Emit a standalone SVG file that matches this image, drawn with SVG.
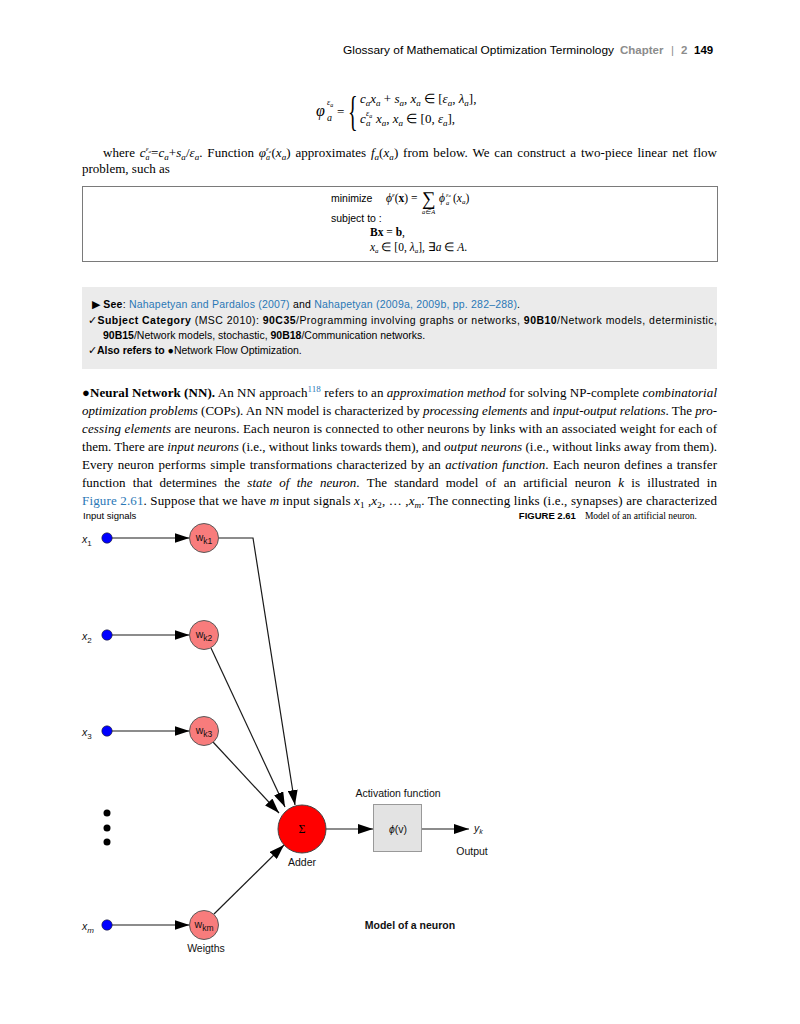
<svg xmlns="http://www.w3.org/2000/svg" width="800" height="1024" viewBox="0 0 800 1024">
<style>
.serif{font-family:"Liberation Serif","Times New Roman",serif}
.sans{font-family:"Liberation Sans",Arial,sans-serif}
.i{font-style:italic}
.b{font-weight:bold}
.link{fill:#2a78b6}
.gray{fill:#8c8c8c}
.conn{stroke:#1a1a1a;stroke-width:1.2;fill:none}
.wnode{fill:#f87c7c;stroke:#5a5a5a;stroke-width:1}
.dot{fill:#0000ff;stroke:#222;stroke-width:0.6}
.lbl{font-family:"Liberation Sans",Arial,sans-serif;font-size:10.5px;fill:#111}
</style>
<defs>
<marker id="ah" markerWidth="15" markerHeight="10" refX="15" refY="5" orient="auto" markerUnits="userSpaceOnUse">
<path d="M0,0 L15,5 L0,10 z" fill="#000"/>
</marker>
</defs>
<rect width="800" height="1024" fill="#fff"/>

<!-- header -->
<g id="header">
<text class="sans" x="343" y="54" font-size="11.5" textLength="271" lengthAdjust="spacingAndGlyphs">Glossary of Mathematical Optimization Terminology</text>
<text class="sans b gray" x="620" y="54" font-size="11.5">Chapter</text>
<text class="sans gray" x="671" y="54" font-size="11.5">|</text>
<text class="sans b gray" x="681" y="54" font-size="11.5">2</text>
<text class="sans b" x="694" y="54" font-size="11.5">149</text>
</g>

<!-- top formula -->
<g id="formula1" class="serif" font-size="13">
<text class="i" x="316" y="116" font-size="16">φ</text>
<text class="i" x="327" y="105" font-size="8">ε<tspan font-size="6" dy="1.5">a</tspan></text>
<text class="i" x="327" y="121" font-size="10">a</text>
<text x="337" y="116">=</text>
<text transform="translate(348,125) scale(1,2.1)" font-size="20">{</text>
<text x="360" y="103"><tspan class="i">c</tspan><tspan class="i" font-size="9" dy="3">a</tspan><tspan class="i" dy="-3">x</tspan><tspan class="i" font-size="9" dy="3">a</tspan><tspan dy="-3"> + </tspan><tspan class="i">s</tspan><tspan class="i" font-size="9" dy="3">a</tspan><tspan dy="-3">,  </tspan><tspan class="i">x</tspan><tspan class="i" font-size="9" dy="3">a</tspan><tspan dy="-3"> ∈ [</tspan><tspan class="i">ε</tspan><tspan class="i" font-size="9" dy="3">a</tspan><tspan dy="-3">, </tspan><tspan class="i">λ</tspan><tspan class="i" font-size="9" dy="3">a</tspan><tspan dy="-3">],</tspan></text>
<text class="i" x="360" y="123">c</text>
<text class="i" x="366" y="116" font-size="8">ε<tspan font-size="6" dy="1.5">a</tspan></text>
<text class="i" x="366" y="126" font-size="9">a</text>
<text x="376" y="123"><tspan class="i">x</tspan><tspan class="i" font-size="9" dy="3">a</tspan><tspan dy="-3">,  </tspan><tspan class="i">x</tspan><tspan class="i" font-size="9" dy="3">a</tspan><tspan dy="-3"> ∈ [0, </tspan><tspan class="i">ε</tspan><tspan class="i" font-size="9" dy="3">a</tspan><tspan dy="-3">],</tspan></text>
</g>

<!-- where line -->
<g id="where" class="serif" font-size="13">
<text x="103" y="157" textLength="614" lengthAdjust="spacing" word-spacing="1.5">where <tspan class="i">c</tspan><tspan class="i" font-size="7" dy="-6">ε</tspan><tspan class="i" font-size="5" dy="1.5">a</tspan><tspan class="i" font-size="8" dx="-5.5" dy="7.5">a</tspan><tspan dx="1.5" dy="-3">=</tspan><tspan class="i">c</tspan><tspan class="i" font-size="9" dy="3">a</tspan><tspan dy="-3">+</tspan><tspan class="i">s</tspan><tspan class="i" font-size="9" dy="3">a</tspan><tspan dy="-3">/</tspan><tspan class="i">ε</tspan><tspan class="i" font-size="9" dy="3">a</tspan><tspan dy="-3">. Function </tspan><tspan class="i">φ</tspan><tspan class="i" font-size="7" dy="-6">ε</tspan><tspan class="i" font-size="5" dy="1.5">a</tspan><tspan class="i" font-size="8" dx="-5.5" dy="7.5">a</tspan><tspan dx="1.5" dy="-3">(</tspan><tspan class="i">x</tspan><tspan class="i" font-size="9" dy="3">a</tspan><tspan dy="-3">) approximates </tspan><tspan class="i">f</tspan><tspan class="i" font-size="9" dy="3">a</tspan><tspan dy="-3">(</tspan><tspan class="i">x</tspan><tspan class="i" font-size="9" dy="3">a</tspan><tspan dy="-3">) from below. We can construct a two-piece linear net flow</tspan></text>
<text x="82" y="173">problem, such as</text>
</g>

<!-- optimization box -->
<g id="problem-box">
<rect x="82.5" y="186.5" width="635" height="75" fill="#fff" stroke="#7a7a7a" stroke-width="1"/>
<text class="sans" x="331" y="202" font-size="10.5">minimize</text>
<text class="serif" x="386" y="202" font-size="11.5"><tspan class="i">ϕ</tspan><tspan class="i" font-size="7" dy="-5">ε</tspan><tspan dy="5">(</tspan><tspan class="b">x</tspan>) = </text>
<text class="serif" x="422" y="205" font-size="19">∑</text>
<text class="serif i" x="422" y="214" font-size="6.5">a∈A</text>
<text class="serif i" x="439" y="202" font-size="11.5">ϕ</text>
<text class="serif i" x="446" y="197" font-size="6">ε<tspan font-size="4.5">a</tspan></text>
<text class="serif i" x="446" y="205" font-size="6.5">a</text>
<text class="serif" x="453" y="202" font-size="11.5">(<tspan class="i">x</tspan><tspan class="i" font-size="7" dy="2">a</tspan><tspan dy="-2">)</tspan></text>
<text class="sans" x="331" y="222" font-size="10.5">subject to :</text>
<text class="serif" x="370" y="236" font-size="11.5"><tspan class="b">Bx</tspan> = <tspan class="b">b</tspan>,</text>
<text class="serif" x="370" y="251" font-size="11.5"><tspan class="i">x</tspan><tspan class="i" font-size="7" dy="2">a</tspan><tspan dy="-2"> ∈ [0, </tspan><tspan class="i">λ</tspan><tspan class="i" font-size="7" dy="2">a</tspan><tspan dy="-2">], ∃</tspan><tspan class="i">a</tspan> ∈ <tspan class="i">A</tspan>.</text>
</g>

<!-- see-also box -->
<g id="see-box" class="sans" font-size="10.5">
<rect x="82" y="287" width="635" height="82" fill="#ebebeb"/>
<text x="92" y="308" textLength="428" lengthAdjust="spacing">▶ <tspan class="b">See</tspan>: <tspan class="link">Nahapetyan and Pardalos (2007)</tspan> and <tspan class="link">Nahapetyan (2009a, 2009b, pp. 282–288)</tspan>.</text>
<text x="88" y="324" textLength="629" lengthAdjust="spacing">✓<tspan class="b">Subject Category</tspan> (MSC 2010): <tspan class="b">90C35</tspan>/Programming involving graphs or networks, <tspan class="b">90B10</tspan>/Network models, deterministic,</text>
<text x="103" y="339"><tspan class="b">90B15</tspan>/Network models, stochastic, <tspan class="b">90B18</tspan>/Communication networks.</text>
<text x="88" y="354">✓<tspan class="b">Also refers to </tspan>●Network Flow Optimization.</text>
</g>

<!-- paragraph -->
<g id="paragraph" class="serif" font-size="13">
<text x="82" y="397" textLength="635" lengthAdjust="spacing"><tspan class="b">●Neural Network (NN).</tspan> An NN approach<tspan class="link" font-size="9" dy="-5">118</tspan><tspan dy="5"> refers to an </tspan><tspan class="i">approximation method</tspan> for solving NP-complete <tspan class="i">combinatorial</tspan></text>
<text x="82" y="415" textLength="635" lengthAdjust="spacing"><tspan class="i">optimization problems</tspan> (COPs). An NN model is characterized by <tspan class="i">processing elements</tspan> and <tspan class="i">input-output relations</tspan>. The <tspan class="i">pro-</tspan></text>
<text x="82" y="433" textLength="635" lengthAdjust="spacing"><tspan class="i">cessing elements</tspan> are neurons. Each neuron is connected to other neurons by links with an associated weight for each of</text>
<text x="82" y="451" textLength="635" lengthAdjust="spacing">them. There are <tspan class="i">input neurons</tspan> (i.e., without links towards them), and <tspan class="i">output neurons</tspan> (i.e., without links away from them).</text>
<text x="82" y="469" textLength="635" lengthAdjust="spacing" word-spacing="1">Every neuron performs simple transformations characterized by an <tspan class="i">activation function</tspan>. Each neuron defines a transfer</text>
<text x="82" y="487" textLength="635" lengthAdjust="spacing" word-spacing="4">function that determines the <tspan class="i">state of the neuron</tspan>. The standard model of an artificial neuron <tspan class="i">k</tspan> is illustrated in</text>
<text x="82" y="505" textLength="635" lengthAdjust="spacing"><tspan class="link">Figure 2.61</tspan>. Suppose that we have <tspan class="i">m</tspan> input signals <tspan class="i">x</tspan><tspan font-size="9" dy="3">1</tspan><tspan dy="-3"> ,</tspan><tspan class="i">x</tspan><tspan font-size="9" dy="3">2</tspan><tspan dy="-3">, … ,</tspan><tspan class="i">x</tspan><tspan class="i" font-size="9" dy="3">m</tspan><tspan dy="-3">. The connecting links (i.e., synapses) are characterized</tspan></text>
</g>

<!-- figure caption -->
<g id="caption">
<text class="sans" x="83" y="519" font-size="9.5">Input signals</text>
<text x="697" y="519" text-anchor="end"><tspan class="sans b" font-size="9.5">FIGURE 2.61</tspan><tspan class="serif" font-size="9.5" dx="9">Model of an artificial neuron.</tspan></text>
</g>

<!-- connectors -->
<g id="connectors" class="conn">
<line x1="112" y1="538" x2="189.5" y2="538" marker-end="url(#ah)"/>
<line x1="112" y1="635" x2="189.5" y2="635" marker-end="url(#ah)"/>
<line x1="112" y1="731" x2="189.5" y2="731" marker-end="url(#ah)"/>
<line x1="112" y1="925" x2="189.5" y2="925" marker-end="url(#ah)"/>
<polyline points="218.5,538 253,538 295,805" marker-end="url(#ah)"/>
<line x1="211" y1="648" x2="285" y2="807" marker-end="url(#ah)"/>
<line x1="213" y1="742" x2="279" y2="813" marker-end="url(#ah)"/>
<line x1="214" y1="914" x2="284" y2="845" marker-end="url(#ah)"/>
<line x1="326" y1="829" x2="373" y2="829" marker-end="url(#ah)"/>
<line x1="422" y1="829" x2="469" y2="829" marker-end="url(#ah)"/>
</g>

<!-- inputs -->
<g id="input-x1"><circle class="dot" cx="107" cy="538" r="5.2"/><text class="lbl" x="82" y="543"><tspan class="i">x</tspan><tspan font-size="8" dy="3">1</tspan></text></g>
<g id="input-x2"><circle class="dot" cx="107" cy="635" r="5.2"/><text class="lbl" x="82" y="640"><tspan class="i">x</tspan><tspan font-size="8" dy="3">2</tspan></text></g>
<g id="input-x3"><circle class="dot" cx="107" cy="731" r="5.2"/><text class="lbl" x="82" y="736"><tspan class="i">x</tspan><tspan font-size="8" dy="3">3</tspan></text></g>
<g id="input-xm"><circle class="dot" cx="107" cy="925" r="5.2"/><text class="lbl" x="82" y="930"><tspan class="i">x</tspan><tspan class="i" font-size="8" dy="3">m</tspan></text></g>
<g id="ellipsis"><circle cx="107" cy="813" r="3.5" fill="#000"/><circle cx="107" cy="828" r="3.5" fill="#000"/><circle cx="107" cy="842" r="3.5" fill="#000"/></g>

<!-- weights -->
<g id="weight-k1"><circle class="wnode" cx="204" cy="538" r="14.5"/><text class="lbl" x="204" y="541" text-anchor="middle" font-size="10">w<tspan font-size="8.5" dy="3">k1</tspan></text></g>
<g id="weight-k2"><circle class="wnode" cx="204" cy="635" r="14.5"/><text class="lbl" x="204" y="638" text-anchor="middle" font-size="10">w<tspan font-size="8.5" dy="3">k2</tspan></text></g>
<g id="weight-k3"><circle class="wnode" cx="204" cy="731" r="14.5"/><text class="lbl" x="204" y="734" text-anchor="middle" font-size="10">w<tspan font-size="8.5" dy="3">k3</tspan></text></g>
<g id="weight-km"><circle class="wnode" cx="204" cy="925" r="14.5"/><text class="lbl" x="204" y="928" text-anchor="middle" font-size="10">w<tspan font-size="8.5" dy="3">km</tspan></text><text class="lbl" x="206" y="952" text-anchor="middle" font-size="11">Weigths</text></g>

<!-- adder -->
<g id="adder"><circle cx="302" cy="829" r="24" fill="#ff0000" stroke="#444" stroke-width="1"/><text class="serif" x="302" y="833" text-anchor="middle" font-size="12">Σ</text><text class="lbl" x="302" y="866" text-anchor="middle" font-size="11">Adder</text></g>

<!-- activation -->
<g id="activation"><rect x="373.5" y="804.5" width="48" height="47" fill="#e3e3e3" stroke="#999" stroke-width="1"/><text class="lbl" x="398" y="833" text-anchor="middle" font-size="10"><tspan class="i">ϕ</tspan>(v)</text><text class="lbl" x="398" y="797" text-anchor="middle" font-size="10.5">Activation function</text></g>

<!-- output -->
<g id="output"><text class="lbl" x="474" y="832"><tspan class="i">y</tspan><tspan class="i" font-size="7" dy="2">k</tspan></text><text class="lbl" x="472" y="855" text-anchor="middle" font-size="11">Output</text></g>

<g id="title"><text class="lbl b" x="410" y="929" text-anchor="middle" font-size="10.5">Model of a neuron</text></g>
</svg>
